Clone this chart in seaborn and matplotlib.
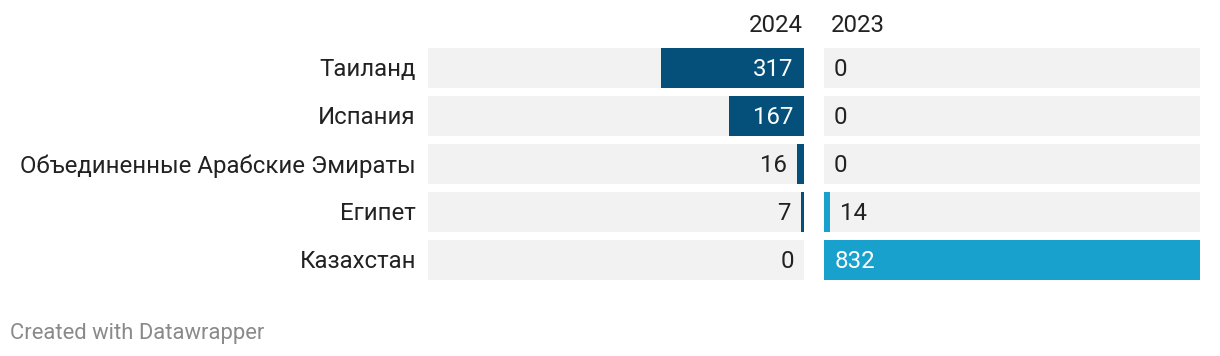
import pandas as pd
import matplotlib
matplotlib.use("Agg")
import matplotlib.pyplot as plt
import seaborn as sns

countries = ['Таиланд', 'Испания', 'Объединенные Арабские Эмираты', 'Египет', 'Казахстан']
values_2024 = [317, 167, 16, 7, 0]
values_2023 = [0, 0, 0, 14, 832]
years = ['2024', '2023']

DARK = '#05507a'
LIGHT = '#18a1cd'
BG = '#f2f2f2'
TEXT = '#222222'
FS = 17.3

W, H = 1220, 356
PX = 0.72  # points per pixel at dpi 100
DY = -2 * PX  # nudge text down a little


def fig_rect(x0, y0, x1, y1):
    return [x0 / W, (H - y1) / H, (x1 - x0) / W, (y1 - y0) / H]


def draw_panel(ax, df, col, color, flip):
    vmax = max(max(values_2024), max(values_2023))
    bg = pd.DataFrame({'country': df['country'], 'v': vmax})
    sns.barplot(data=bg, x='v', y='country', orient='h', color=BG,
                width=40 / 48, ax=ax, saturation=1, linewidth=0)
    sns.barplot(data=df, x=col, y='country', orient='h', color=color,
                width=40 / 48, ax=ax, saturation=1, linewidth=0)
    ax.set_xlim(0, vmax)
    if flip:
        ax.invert_xaxis()
    ax.set_ylim(4.5, -0.5)
    sign = -1 if flip else 1
    ha_in = 'right' if flip else 'left'
    for i, v in enumerate(df[col]):
        bar_px = v / vmax * 376
        if bar_px > 50:
            ax.annotate(str(v), (0, i), xytext=(sign * 11 * PX, DY),
                        textcoords='offset points', ha=ha_in, va='center',
                        color='white', fontsize=FS)
        else:
            ax.annotate(str(v), (v, i), xytext=(sign * 10 * PX, DY),
                        textcoords='offset points', ha=ha_in, va='center',
                        color=TEXT, fontsize=FS)
    ax.set_xlabel('')
    ax.set_ylabel('')
    ax.set_xticks([])
    ax.set_yticks([])
    for s in ax.spines.values():
        s.set_visible(False)


def main():
    sns.set_style('white')
    plt.rcParams['font.family'] = ['Roboto', 'DejaVu Sans']

    df = pd.DataFrame({'country': countries, '2024': values_2024, '2023': values_2023})

    fig = plt.figure(figsize=(W / 100, H / 100), dpi=100)
    ax_l = fig.add_axes(fig_rect(428, 44, 804, 284))
    ax_r = fig.add_axes(fig_rect(824, 44, 1200, 284))

    draw_panel(ax_l, df, '2024', DARK, True)
    draw_panel(ax_r, df, '2023', LIGHT, False)

    for i, c in enumerate(countries):
        ax_l.annotate(c, (0, i), xycoords=('axes fraction', 'data'),
                      xytext=(-12 * PX, DY), textcoords='offset points',
                      ha='right', va='center', color=TEXT, fontsize=FS)

    fig.text(803 / W, 1 - 26 / H, years[0], ha='right', va='center',
             color=TEXT, fontsize=FS)
    fig.text(831 / W, 1 - 26 / H, years[1], ha='left', va='center',
             color=TEXT, fontsize=FS)
    fig.text(10 / W, 1 - 333 / H, 'Created with Datawrapper', ha='left',
             va='center', color='#8a8a8a', fontsize=15.8)

    fig.savefig('out.png', dpi=100)


if __name__ == "__main__":
    main()
